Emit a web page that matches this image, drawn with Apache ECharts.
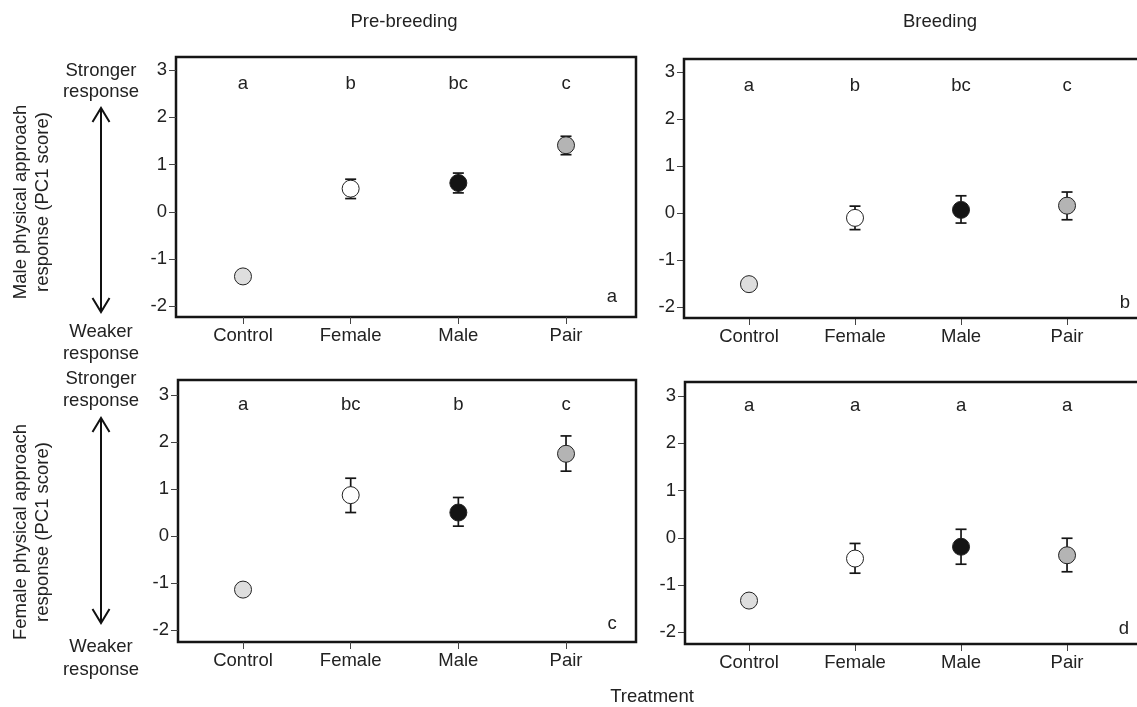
<!DOCTYPE html>
<html>
<head>
<meta charset="utf-8">
<script src="https://cdn.jsdelivr.net/npm/echarts@6/dist/echarts.min.js"></script>
<style>
html,body{margin:0;padding:0;background:#fff;}
#chart{width:1137px;height:707px;}
</style>
</head>
<body>
<div id="chart"></div>
<script>
// ---------- DATA ----------
const categories = ['Control', 'Female', 'Male', 'Pair'];
const yTicks = [-2, -1, 0, 1, 2, 3];
const panelTitles = ['Pre-breeding', 'Breeding'];
const panelTags = ['a', 'b', 'c', 'd'];

const malePreMean   = [-1.37, 0.49, 0.61, 1.41];
const malePreLow    = [null, 0.28, 0.40, 1.21];
const malePreHigh   = [null, 0.69, 0.82, 1.60];
const malePreLetters = ['a', 'b', 'bc', 'c'];

const maleBreedMean  = [-1.51, -0.10, 0.07, 0.16];
const maleBreedLow   = [null, -0.35, -0.21, -0.14];
const maleBreedHigh  = [null, 0.15, 0.37, 0.45];
const maleBreedLetters = ['a', 'b', 'bc', 'c'];

const femalePreMean  = [-1.14, 0.87, 0.50, 1.75];
const femalePreLow   = [null, 0.50, 0.21, 1.38];
const femalePreHigh  = [null, 1.23, 0.82, 2.13];
const femalePreLetters = ['a', 'bc', 'b', 'c'];

const femaleBreedMean = [-1.33, -0.44, -0.19, -0.37];
const femaleBreedLow  = [null, -0.75, -0.56, -0.72];
const femaleBreedHigh = [null, -0.12, 0.18, -0.01];
const femaleBreedLetters = ['a', 'a', 'a', 'a'];

// ---------- STYLE ----------
const FONT = "'Liberation Sans', Arial, Helvetica, sans-serif";
const FS = 18.5;
const TXT = '#222';
const markerColors = ['#dedede', '#ffffff', '#141414', '#b4b4b4'];

const panels = [
  { mean: malePreMean, low: malePreLow, high: malePreHigh, letters: malePreLetters, border: true,
    grid: { left: 176, top: 57, width: 460, height: 260 }, x: [0.378, 4.65], y: [-2.23, 3.28], letterY: 2.71 },
  { mean: maleBreedMean, low: maleBreedLow, high: maleBreedHigh, letters: maleBreedLetters, border: false,
    grid: { left: 684, top: 59, width: 453, height: 259 }, x: [0.387, 4.66], y: [-2.23, 3.28], letterY: 2.70 },
  { mean: femalePreMean, low: femalePreLow, high: femalePreHigh, letters: femalePreLetters, border: true,
    grid: { left: 178, top: 380, width: 458, height: 262 }, x: [0.396, 4.65], y: [-2.255, 3.32], letterY: 2.80 },
  { mean: femaleBreedMean, low: femaleBreedLow, high: femaleBreedHigh, letters: femaleBreedLetters, border: false,
    grid: { left: 685, top: 382, width: 452, height: 262 }, x: [0.396, 4.66], y: [-2.25, 3.30], letterY: 2.79 }
];

const FRAME = { stroke: '#151515', lineWidth: 2.5, fill: null };
const grids = [], xAxes = [], yAxes = [], series = [], frames = [];
panels.forEach((p, i) => {
  grids.push(Object.assign({ show: p.border, borderColor: '#151515', borderWidth: 2.5, backgroundColor: 'transparent' }, p.grid));
  if (!p.border) {
    // right side of these panels is cut by the figure edge
    frames.push({ type: 'rect', z: 10, silent: true,
      shape: { x: p.grid.left, y: p.grid.top, width: p.grid.width + 80, height: p.grid.height }, style: FRAME });
  }
  xAxes.push({
    type: 'value', gridIndex: i, min: p.x[0], max: p.x[1],
    splitLine: { show: false }, axisLine: { show: false, onZero: false },
    axisTick: { show: true, length: 7, customValues: [1, 2, 3, 4], lineStyle: { color: '#444', width: 1 } },
    axisLabel: { show: true, customValues: [1, 2, 3, 4], margin: 9, color: TXT, fontFamily: FONT, fontSize: FS,
      formatter: v => categories[Math.round(v) - 1] || '' }
  });
  yAxes.push({
    type: 'value', gridIndex: i, min: p.y[0], max: p.y[1],
    splitLine: { show: false }, axisLine: { show: false, onZero: false },
    axisTick: { show: true, length: 7, customValues: yTicks, lineStyle: { color: '#444', width: 1 } },
    axisLabel: { show: true, customValues: yTicks, margin: 9, color: TXT, fontFamily: FONT, fontSize: FS,
      formatter: v => String(Math.round(v)) }
  });
  // error bars
  const errData = [];
  categories.forEach((c, k) => {
    if (p.low[k] !== null && p.high[k] !== null) errData.push([k + 1, p.low[k], p.high[k]]);
  });
  series.push({
    type: 'custom', xAxisIndex: i, yAxisIndex: i, data: errData, silent: true, z: 2,
    renderItem: (params, api) => {
      const x = api.value(0);
      const a = api.coord([x, api.value(1)]);
      const b = api.coord([x, api.value(2)]);
      const w = 5.5;
      const st = { stroke: '#151515', lineWidth: 1.7 };
      return { type: 'group', children: [
        { type: 'line', shape: { x1: a[0], y1: a[1], x2: b[0], y2: b[1] }, style: st },
        { type: 'line', shape: { x1: a[0] - w, y1: a[1], x2: a[0] + w, y2: a[1] }, style: st },
        { type: 'line', shape: { x1: b[0] - w, y1: b[1], x2: b[0] + w, y2: b[1] }, style: st }
      ] };
    }
  });
  // means
  series.push({
    type: 'scatter', xAxisIndex: i, yAxisIndex: i, symbol: 'circle', symbolSize: 17, z: 3, silent: true,
    itemStyle: { opacity: 1 },
    data: p.mean.map((v, k) => ({ value: [k + 1, v], itemStyle: { color: markerColors[k], borderColor: '#222', borderWidth: 1, opacity: 1 } }))
  });
  // significance letters
  series.push({
    type: 'scatter', xAxisIndex: i, yAxisIndex: i, symbolSize: 0, z: 4, silent: true,
    itemStyle: { opacity: 1 },
    data: p.letters.map((t, k) => ({ value: [k + 1, p.letterY], name: t })),
    label: { show: true, position: 'inside', formatter: d => d.name, color: TXT, opacity: 1, fontFamily: FONT, fontSize: FS }
  });
});

function txt(x, y, s, extra) {
  return Object.assign({ type: 'text', x: x, y: y, style: { text: s, fill: TXT, font: FS + 'px ' + FONT, align: 'center', verticalAlign: 'middle' } }, extra || {});
}
function arrow(x, y1, y2) {
  const hw = 8.5, hh = 14;
  const st = { stroke: '#111', lineWidth: 2, fill: null };
  return [
    { type: 'line', shape: { x1: x, y1: y1, x2: x, y2: y2 }, style: st },
    { type: 'polyline', shape: { points: [[x - hw, y1 + hh], [x, y1], [x + hw, y1 + hh]] }, style: st },
    { type: 'polyline', shape: { points: [[x - hw, y2 - hh], [x, y2], [x + hw, y2 - hh]] }, style: st }
  ];
}
function rot(x, y, s) {
  return { type: 'text', x: x, y: y, rotation: Math.PI / 2,
    style: { text: s, fill: TXT, font: FS + 'px ' + FONT, align: 'center', verticalAlign: 'middle' } };
}

const graphics = [
  txt(404, 22, panelTitles[0]),
  txt(940, 22, panelTitles[1]),
  txt(652, 697, 'Treatment'),
  txt(612, 297, panelTags[0]),
  txt(1125, 303, panelTags[1]),
  txt(612, 624, panelTags[2]),
  txt(1124, 629, panelTags[3]),
  txt(101, 71, 'Stronger'),
  txt(101, 92, 'response'),
  txt(101, 332, 'Weaker'),
  txt(101, 354, 'response'),
  txt(101, 379, 'Stronger'),
  txt(101, 401, 'response'),
  txt(101, 647, 'Weaker'),
  txt(101, 670, 'response'),
  rot(21, 202, 'Male physical approach'),
  rot(43, 202, 'response (PC1 score)'),
  rot(21, 532, 'Female physical approach'),
  rot(43, 532, 'response (PC1 score)')
].concat(arrow(101, 108, 312)).concat(arrow(101, 418, 623)).concat(frames);

const chart = echarts.init(document.getElementById('chart'), null, { renderer: 'canvas' });
chart.setOption({
  animation: false,
  backgroundColor: '#ffffff',
  grid: grids, xAxis: xAxes, yAxis: yAxes, series: series,
  graphic: { elements: graphics }
});
</script>
</body>
</html>
